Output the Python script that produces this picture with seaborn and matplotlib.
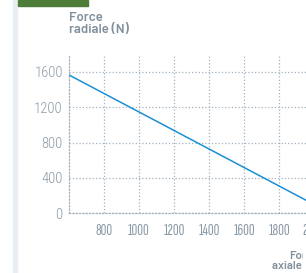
import numpy as np
import pandas as pd
import matplotlib
matplotlib.use("Agg")
from matplotlib import pyplot as plt
from matplotlib.patches import Rectangle
from matplotlib.transforms import Bbox
import seaborn as sns

# données
force_axiale = [600, 2000]
force_radiale = [1563, 100]
xticks = [800, 1000, 1200, 1400, 1600, 1800, 2000]
yticks = [0, 400, 800, 1200, 1600]

df = pd.DataFrame({"axiale": force_axiale, "radiale": force_radiale})

sns.set_style("white")
plt.rcParams['font.family'] = ['Roboto Condensed', 'DejaVu Sans']

W, H = 306, 273
fig = plt.figure(figsize=(W / 100, H / 100), dpi=100)

# bandeau gauche + barre verte en haut
fig.patches.append(Rectangle((13 / W, 0), 4 / W, 1, transform=fig.transFigure,
                             color='#e9eef2', zorder=0))
fig.patches.append(Rectangle((18 / W, 1 - 6 / H), 70 / W, 6 / H, transform=fig.transFigure,
                             color='#4e7d3a', zorder=0))

x0, x1 = 600, 2100
px = 35 / 200
ax = fig.add_axes([69 / W, (H - 213.3) / H, (x1 - x0) * px / W, (213.3 - 54) / H])
ax.patch.set_alpha(0)

sns.lineplot(data=df, x="axiale", y="radiale", ax=ax, color='#1b8fd6', linewidth=1.1)

ax.set_xlim(x0, x1)
ax.set_ylim(0, 1800)
ax.set_xticks(xticks)
ax.set_yticks(yticks)
ax.set_xlabel("")
ax.set_ylabel("")

grid_col = '#a3b2bf'
ax.grid(True, linestyle=':', color=grid_col, linewidth=0.9)
for s in ['top', 'right']:
    ax.spines[s].set_visible(False)
for s in ['left', 'bottom']:
    ax.spines[s].set_linestyle(':')
    ax.spines[s].set_color(grid_col)
    ax.spines[s].set_linewidth(0.9)

ax.tick_params(axis='both', length=0, labelcolor='#8a9aa7')
ax.tick_params(axis='y', pad=4.5, labelsize=10.5)
ax.tick_params(axis='x', pad=8, labelsize=11.5)
for lab in ax.get_xticklabels():
    lab.set_family(['Sofia Sans Extra Condensed', 'Roboto Condensed', 'DejaVu Sans'])
for lab in ax.get_yticklabels():
    lab.set_fontweight('light')

titre = dict(fontweight='semibold', color='#808f9b',
             family=['Barlow', 'DejaVu Sans'], linespacing=0.95)
fig.text(69 / W, 1 - 12 / H, "Force\nradiale (N)", ha='left', va='top', fontsize=9.5, **titre)
t = fig.text(272 / W, 1 - 271 / H, "Force\naxiale (N)", ha='left', va='bottom',
             multialignment='right', fontsize=8.3, **titre)
# le libellé est coupé au bord droit comme sur l'original
t.set_clip_box(Bbox.from_extents(0, 0, 303, H))
t.set_clip_on(True)

fig.savefig("out.png", dpi=100)
